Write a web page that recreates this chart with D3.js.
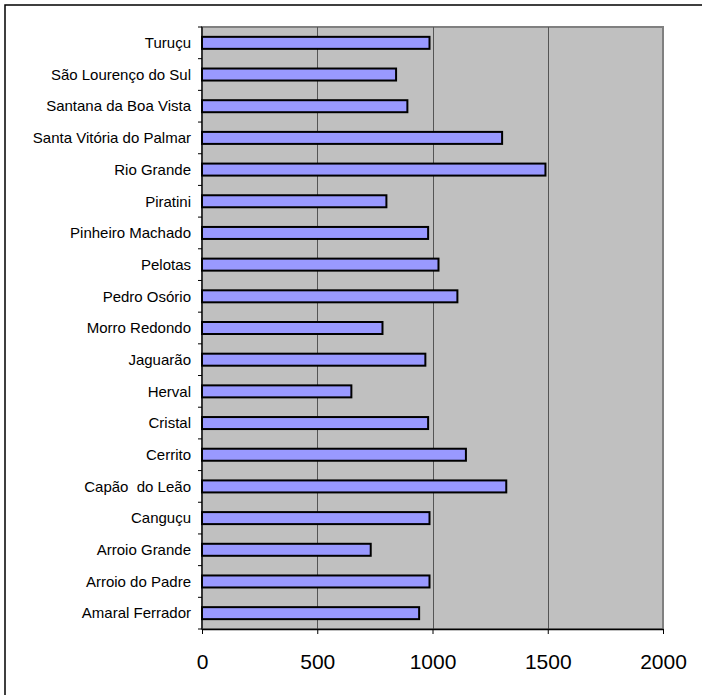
<!DOCTYPE html>
<html>
<head>
<meta charset="utf-8">
<script src="https://cdn.jsdelivr.net/npm/d3@7"></script>
<style>
  html, body { margin: 0; padding: 0; background: #fff; }
  svg { display: block; }
  text { white-space: pre; }
</style>
</head>
<body>
<svg id="chart" width="702" height="695"></svg>
<script>
// Municipalities, listed from top to bottom of the chart
const municipios = [
  "Turuçu", "São Lourenço do Sul", "Santana da Boa Vista", "Santa Vitória do Palmar",
  "Rio Grande", "Piratini", "Pinheiro Machado", "Pelotas", "Pedro Osório",
  "Morro Redondo", "Jaguarão", "Herval", "Cristal", "Cerrito", "Capão  do Leão",
  "Canguçu", "Arroio Grande", "Arroio do Padre", "Amaral Ferrador"
];
const valores = [
  987, 842, 891, 1302,
  1490, 800, 981, 1026, 1108,
  783, 969, 648, 981, 1145, 1320,
  987, 732, 987, 942
];
const xTicks = [0, 500, 1000, 1500, 2000];

const svg = d3.select("#chart");
const plotLeft = 202, plotRight = 663, plotTop = 27, plotBottom = 629;

// outer frame
svg.append("rect")
  .attr("x", 5).attr("y", 5).attr("width", 800).attr("height", 800)
  .attr("fill", "none").attr("stroke", "#000").attr("stroke-width", 1.5);

const x = d3.scaleLinear().domain([0, 2000]).range([plotLeft, plotRight]);
const y = d3.scaleBand().domain(municipios).range([plotTop, plotBottom]).paddingInner(0).paddingOuter(0);

// plot background
svg.append("rect")
  .attr("x", plotLeft).attr("y", plotTop)
  .attr("width", plotRight - plotLeft).attr("height", plotBottom - plotTop)
  .attr("fill", "#c0c0c0").attr("stroke", "#808080").attr("stroke-width", 2);

// vertical gridlines
svg.append("g").selectAll("line").data(xTicks.filter(d => d > 0 && d < 2000)).join("line")
  .attr("x1", d => Math.round(x(d)) + 0.5).attr("x2", d => Math.round(x(d)) + 0.5)
  .attr("y1", plotTop).attr("y2", plotBottom)
  .attr("stroke", "#555").attr("stroke-width", 1);

// bars
const barH = 12;
svg.append("g").selectAll("rect").data(municipios).join("rect")
  .attr("x", x(0))
  .attr("y", (d) => y(d) + y.bandwidth() / 2 - barH / 2)
  .attr("width", (d, i) => x(valores[i]) - x(0))
  .attr("height", barH)
  .attr("fill", "#9999ff")
  .attr("stroke", "#000")
  .attr("stroke-width", 2);

// y axis: ticks sit on category boundaries
const yAxis = svg.append("g").attr("transform", `translate(${plotLeft},0)`);
yAxis.append("line").attr("x1", 0).attr("x2", 0).attr("y1", plotTop).attr("y2", plotBottom)
  .attr("stroke", "#000").attr("stroke-width", 1.2);
const boundaries = municipios.map(d => y(d)).concat([plotBottom]);
yAxis.selectAll("line.tk").data(boundaries).join("line").attr("class", "tk")
  .attr("x1", -4).attr("x2", 0).attr("y1", d => d).attr("y2", d => d)
  .attr("stroke", "#000").attr("stroke-width", 1);
yAxis.selectAll("text").data(municipios).join("text")
  .attr("x", -11)
  .attr("y", d => y(d) + y.bandwidth() / 2)
  .attr("dy", "0.35em")
  .attr("text-anchor", "end")
  .attr("font-family", "Liberation Sans, Arial, sans-serif")
  .attr("font-size", 15)
  .attr("fill", "#000")
  .text(d => d);

// x axis
const xAxis = svg.append("g").attr("transform", `translate(0,${plotBottom})`)
  .call(d3.axisBottom(x).tickValues(xTicks).tickFormat(d3.format("d"))
    .tickSize(5).tickPadding(20).tickSizeOuter(0));
xAxis.select(".domain").attr("stroke", "#000").attr("stroke-width", 1.5);
xAxis.selectAll(".tick line").attr("stroke", "#000");
xAxis.selectAll(".tick text")
  .attr("font-family", "Liberation Sans, Arial, sans-serif")
  .attr("font-size", 21)
  .attr("fill", "#000");
</script>
</body>
</html>
